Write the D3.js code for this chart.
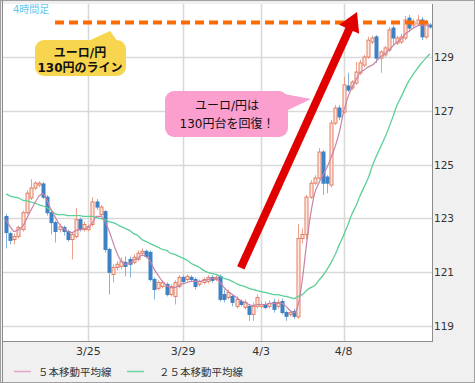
<!DOCTYPE html>
<html><head><meta charset="utf-8">
<script src="https://cdn.jsdelivr.net/npm/d3@7/dist/d3.min.js"></script>
<style>
html,body{margin:0;padding:0;background:#fff;}
svg{display:block;}
text{font-family:"DejaVu Sans","Noto Sans CJK JP",sans-serif;}
</style></head>
<body><svg id="c" width="475" height="383"></svg>
<script>
// ---- data (EUR/JPY, 4-hour candles) ----
const open = [123.07,122.43,122.21,122.32,122.58,123.21,123.76,124.13,124.24,124.28,
123.79,123.21,122.84,122.58,122.66,122.51,122.21,122.32,122.95,122.58,
122.58,122.77,123.61,123.14,123.25,121.84,120.91,121.17,121.21,121.36,
121.47,121.36,121.47,121.70,121.77,121.73,120.72,120.39,120.46,120.54,
120.16,120.09,120.46,120.80,120.72,120.80,120.72,120.54,120.61,120.65,
120.80,120.72,120.84,120.16,120.05,120.09,119.72,119.90,119.68,119.72,
119.42,119.72,119.72,119.79,119.72,119.87,119.72,119.90,119.49,119.42,
119.53,119.33,122.25,122.40,123.79,124.31,124.50,125.47,124.54,124.24,
126.55,127.11,126.96,127.93,127.86,128.04,128.42,128.71,129.01,129.57,
129.76,128.97,129.09,129.27,130.09,129.53,129.57,129.72,130.46,130.20,
130.24,130.39,129.76,130.20];
const high = [123.18,122.51,122.43,122.73,123.29,124.05,124.46,124.38,124.38,124.35,
123.87,123.29,122.91,122.80,122.73,122.58,122.47,123.39,123.03,122.88,
122.77,123.79,123.72,123.50,123.31,121.91,121.29,121.40,121.55,121.58,
121.58,121.66,121.81,121.88,121.84,121.81,120.80,120.69,120.69,120.61,
120.54,120.69,120.88,120.88,120.91,120.88,120.80,120.72,120.80,120.88,
120.88,120.88,120.91,120.35,120.35,120.16,120.09,119.98,119.98,119.79,
119.87,120.16,119.90,119.90,119.94,120.01,119.98,120.01,119.57,119.57,
119.64,122.80,122.62,123.87,124.42,124.61,125.62,125.54,124.61,126.66,
127.22,127.22,128.27,128.42,128.15,128.82,128.90,129.09,129.76,129.80,
129.83,129.27,129.42,130.13,130.20,129.80,129.87,130.54,130.58,130.43,
130.58,130.50,130.39,130.28];
const low = [121.88,122.03,122.03,122.25,122.51,123.14,123.68,124.05,124.16,123.72,
123.10,122.40,122.10,122.47,122.36,122.14,121.47,122.25,122.51,122.51,
122.51,122.69,123.31,123.07,121.73,120.16,120.61,121.06,121.10,120.84,
120.80,121.29,121.40,121.62,121.51,120.65,119.98,120.31,120.39,120.09,
120.09,119.79,120.39,120.57,120.65,120.65,120.35,120.46,120.54,120.57,
120.61,120.65,119.90,119.87,119.98,119.72,119.64,119.72,119.61,119.18,
119.18,119.64,119.64,119.61,119.64,119.49,119.64,119.42,119.18,119.33,
119.25,119.25,122.07,122.21,123.72,124.24,124.42,123.87,123.94,124.16,
126.47,126.66,126.88,127.71,127.78,127.97,128.34,128.64,128.94,129.49,
128.79,128.42,129.01,129.20,129.46,129.46,129.49,129.64,129.94,130.09,
130.17,129.64,129.68,130.05];
const close = [122.47,122.18,122.32,122.66,123.21,123.94,124.13,124.31,124.31,123.79,
123.21,122.84,122.51,122.69,122.51,122.21,122.40,122.95,122.58,122.77,
122.69,123.61,123.42,123.42,121.84,120.99,121.17,121.29,121.40,121.21,
121.29,121.55,121.70,121.77,121.58,120.72,120.35,120.61,120.61,120.16,
120.46,120.61,120.80,120.65,120.84,120.72,120.46,120.65,120.72,120.80,
120.69,120.80,119.98,119.98,120.24,119.87,119.98,119.79,119.87,119.42,
119.72,120.05,119.79,119.68,119.83,119.61,119.87,119.49,119.35,119.49,
119.35,122.25,122.40,123.79,124.31,124.50,125.47,124.31,124.31,126.55,
127.11,126.78,127.97,127.78,128.08,128.45,128.79,129.01,129.64,129.72,
128.97,129.20,129.35,130.02,129.72,129.72,129.76,130.39,130.09,130.32,
130.39,129.76,130.28,130.13];
const ma5 = [122.95,122.69,122.51,122.58,122.69,122.99,123.29,123.57,123.83,123.91,
123.65,123.31,123.03,122.77,122.62,122.51,122.47,122.55,122.58,122.62,
122.66,122.84,123.07,123.07,122.88,122.55,122.10,121.69,121.40,121.29,
121.32,121.44,121.51,121.62,121.58,121.40,121.10,120.87,120.65,120.50,
120.42,120.42,120.50,120.57,120.61,120.65,120.65,120.65,120.69,120.72,
120.76,120.76,120.61,120.42,120.27,120.16,120.05,119.94,119.87,119.79,
119.75,119.79,119.79,119.79,119.83,119.83,119.83,119.83,119.72,119.57,
119.49,119.79,120.72,122.03,123.14,123.94,124.31,124.61,124.91,125.28,
125.69,126.22,126.96,127.48,127.86,128.15,128.42,128.53,128.64,128.71,
128.86,129.01,129.12,129.27,129.42,129.57,129.68,129.87,129.98,130.09,
130.17,130.20,130.20,130.20];
const ma25 = [123.91,123.83,123.79,123.76,123.68,123.65,123.61,123.57,123.50,123.46,
123.39,123.29,123.17,123.14,123.14,123.10,123.10,123.10,123.10,123.07,
123.07,123.07,123.03,122.99,122.95,122.88,122.84,122.77,122.69,122.62,
122.55,122.43,122.36,122.21,122.14,122.06,121.99,121.92,121.84,121.81,
121.69,121.66,121.58,121.51,121.44,121.32,121.25,121.17,121.06,120.99,
120.95,120.91,120.84,120.76,120.72,120.65,120.57,120.50,120.46,120.39,
120.35,120.31,120.27,120.24,120.20,120.16,120.16,120.12,120.09,120.05,
120.01,120.09,120.16,120.31,120.42,120.50,120.69,120.87,121.10,121.36,
121.66,122.03,122.36,122.73,123.14,123.46,123.83,124.17,124.50,124.95,
125.32,125.66,125.99,126.37,126.78,127.22,127.52,127.86,128.15,128.38,
128.60,128.79,128.97,129.12];
const tickIndex = [20, 43, 62, 82];
const tickLabels = ["3/25", "3/29", "4/3", "4/8"];
const yTicks = [119, 121, 123, 125, 127, 129];
const lineLevel = 130.3;
const legendLabels = ["５本移動平均線", "２５本移動平均線"];

// ---- layout ----
const W = 475, H = 383;
const P = {l: 3, r: 432, t: 4, b: 341};
const svg = d3.select("#c");
const n = close.length;
const idx = d3.range(n);
const x = d3.scaleBand().domain(idx).range([4, 432]);
const cx = i => x(i) + x.bandwidth() / 2;
const y = d3.scaleLinear().domain([119, 129]).range([325.7, 57.3]);

svg.append("rect").attr("x", 0.5).attr("y", 0.5).attr("width", W - 1).attr("height", H - 1)
  .attr("fill", "#f0f0f0").attr("stroke", "#a0a0a0");
svg.append("rect").attr("x", P.l).attr("y", P.t).attr("width", P.r - P.l).attr("height", P.b - P.t)
  .attr("fill", "#fff");

const defs = svg.append("defs");
defs.append("clipPath").attr("id", "clip").append("rect")
  .attr("x", P.l).attr("y", P.t).attr("width", P.r - P.l).attr("height", P.b - P.t);

// grid
const grid = svg.append("g");
grid.selectAll(".hg").data(yTicks).enter().append("line")
  .attr("x1", P.l).attr("x2", P.r).attr("y1", d => Math.round(y(d)) + 0.5).attr("y2", d => Math.round(y(d)) + 0.5)
  .attr("stroke", "#d9d9d9").attr("stroke-width", 1.6);
grid.selectAll(".vg").data(tickIndex).enter().append("line")
  .attr("x1", d => Math.round(cx(d)) + 0.5).attr("x2", d => Math.round(cx(d)) + 0.5).attr("y1", P.t).attr("y2", P.b)
  .attr("stroke", "#d9d9d9").attr("stroke-width", 1.6);

// plot borders
svg.append("line").attr("x1", P.r + 0.5).attr("x2", P.r + 0.5).attr("y1", P.t).attr("y2", P.b + 1).attr("stroke", "#8c8c8c");
svg.append("line").attr("x1", P.l).attr("x2", P.r + 1).attr("y1", P.b + 0.5).attr("y2", P.b + 0.5).attr("stroke", "#8c8c8c");
svg.append("line").attr("x1", 2.5).attr("x2", 2.5).attr("y1", 0).attr("y2", H).attr("stroke", "#8c8c8c");

const plot = svg.append("g").attr("clip-path", "url(#clip)");

// candles
const c = plot.selectAll(".cd").data(idx).enter().append("g");
c.append("line")
  .attr("x1", i => Math.round(cx(i)) + 0.5).attr("x2", i => Math.round(cx(i)) + 0.5)
  .attr("y1", i => y(high[i])).attr("y2", i => y(low[i]))
  .attr("stroke", i => close[i] >= open[i] ? "#eba08c" : "#85b4dc").attr("stroke-width", 1);
c.append("rect")
  .attr("x", i => Math.round(cx(i)) - 1)
  .attr("width", 3)
  .attr("y", i => y(Math.max(open[i], close[i])))
  .attr("height", i => Math.max(1, Math.abs(y(open[i]) - y(close[i]))))
  .attr("fill", i => close[i] >= open[i] ? "#fde9e2" : "#3d82c4")
  .attr("stroke", i => close[i] >= open[i] ? "#e47e62" : "#3d82c4")
  .attr("stroke-width", 1);

// moving averages
const line = arr => d3.line().x(i => cx(i)).y(i => y(arr[i])).curve(d3.curveMonotoneX)(idx);
plot.append("path").attr("d", line(ma25)).attr("fill", "none").attr("stroke", "#5ccf98").attr("stroke-width", 1.3);
plot.append("path").attr("d", line(ma5)).attr("fill", "none").attr("stroke", "#c982a8").attr("stroke-width", 1.2);

// 130 line
plot.append("line").attr("x1", 55).attr("x2", P.r).attr("y1", y(lineLevel)).attr("y2", y(lineLevel))
  .attr("stroke", "#ff6a00").attr("stroke-width", 4).attr("stroke-dasharray", "9,5");

// y axis labels
const yAxis = d3.axisRight(y).tickValues(yTicks).tickSize(0).tickPadding(2).tickFormat(d3.format("d"));
const ya = svg.append("g").attr("transform", `translate(${P.r},0)`).call(yAxis);
ya.select(".domain").remove();
ya.selectAll("text").attr("font-size", 10.5).attr("fill", "#333").attr("font-family", "DejaVu Sans");

// x axis labels
const xAxis = d3.axisBottom(x).tickValues(tickIndex).tickSize(0).tickPadding(6).tickFormat((d, k) => tickLabels[k]);
const xa = svg.append("g").attr("transform", `translate(0,${P.b})`).call(xAxis);
xa.select(".domain").remove();
xa.selectAll("text").attr("font-size", 11).attr("fill", "#333").attr("font-family", "DejaVu Sans");

// legend
const lg = svg.append("g");
const legendColors = ["#e3a6c4", "#73d3ab"];
const legendX = [14, 127];
const legendTextX = [38, 159];
legendLabels.forEach((t, k) => {
  lg.append("line").attr("x1", legendX[k]).attr("x2", legendX[k] + 17).attr("y1", 371.5).attr("y2", 371.5)
    .attr("stroke", legendColors[k]).attr("stroke-width", 1.5);
  lg.append("text").attr("x", legendTextX[k]).attr("y", 375.5).text(t)
    .attr("font-size", 10.5).attr("fill", "#333").attr("font-family", "Noto Sans CJK JP");
});

// timeframe label
svg.append("text").attr("x", 13).attr("y", 13).text("4時間足").attr("font-size", 10)
  .attr("fill", "#66c8f2").attr("font-family", "Noto Sans CJK JP");

// red arrow
(function () {
  const T = [357, 12], ux = 0.4135, uy = -0.9105, nx = 0.9105, ny = 0.4135;
  const B = [T[0] - 19 * ux, T[1] - 19 * uy];
  const S = [B[0] - 262 * ux, B[1] - 262 * uy];
  svg.append("line").attr("x1", S[0]).attr("y1", S[1]).attr("x2", B[0] + 2 * ux).attr("y2", B[1] + 2 * uy)
    .attr("stroke", "#e00000").attr("stroke-width", 8);
  svg.append("path").attr("d", `M${T[0]},${T[1]}L${B[0] + 11 * nx},${B[1] + 11 * ny}L${B[0] - 11 * nx},${B[1] - 11 * ny}Z`)
    .attr("fill", "#e00000");
})();

// callouts
function callout(bx, by, bw, bh, tri, fill, lines, bold, cxp, y0, dy) {
  const g = svg.append("g");
  g.append("path").attr("d", `M${tri[0][0]},${tri[0][1]}L${tri[1][0]},${tri[1][1]}L${tri[2][0]},${tri[2][1]}Z`).attr("fill", fill);
  g.append("rect").attr("x", bx).attr("y", by).attr("width", bw).attr("height", bh).attr("rx", 9).attr("fill", fill);
  lines.forEach((t, k) => g.append("text").attr("x", cxp).attr("y", y0 + k * dy).attr("text-anchor", "middle")
    .attr("font-size", 12).attr("font-weight", bold ? "bold" : "normal").attr("fill", "#111")
    .attr("font-family", "Noto Sans CJK JP").text(t));
}
callout(35, 40, 91, 36, [[86, 42], [110, 31], [118, 42]], "#f8d54e", ["ユーロ/円", "130円のライン"], true, 80, 57, 15);
callout(165, 91, 123, 46, [[284, 94], [311, 99], [284, 112]], "#fb9fcf", ["ユーロ/円は", "130円台を回復！"], false, 227, 110, 18);
</script></body></html>
